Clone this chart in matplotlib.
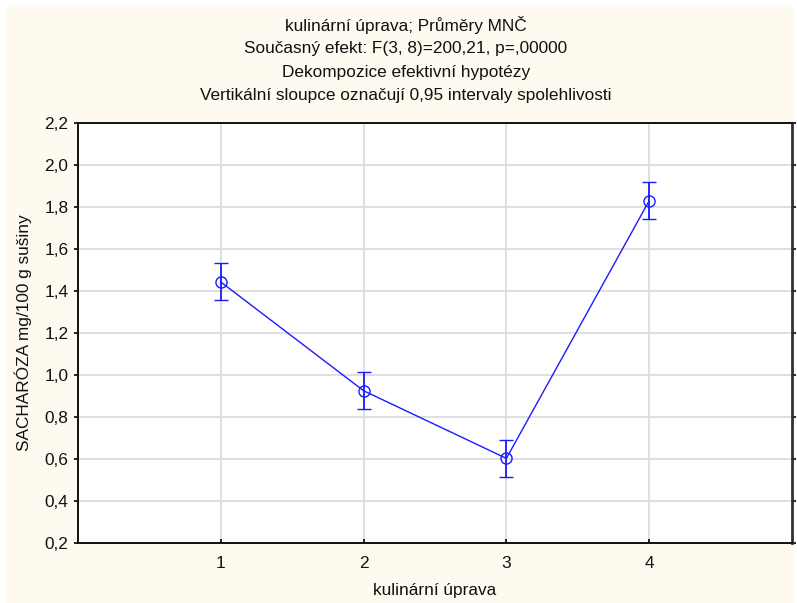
import matplotlib.pyplot as plt
from matplotlib.patches import Rectangle
from matplotlib.ticker import FuncFormatter

plt.rcParams['font.family'] = ['Liberation Sans', 'DejaVu Sans']

# Means of sucrose per cooking treatment with 0.95 confidence half-widths
uprava = [1, 2, 3, 4]
prumery = [1.443, 0.925, 0.603, 1.830]
ci_half = [0.088, 0.089, 0.088, 0.089]
yticks = [0.2, 0.4, 0.6, 0.8, 1.0, 1.2, 1.4, 1.6, 1.8, 2.0, 2.2]

title_lines = [
    'kulinární úprava; Průměry MNČ',
    'Současný efekt: F(3, 8)=200,21, p=,00000',
    'Dekompozice efektivní hypotézy',
    'Vertikální sloupce označují 0,95 intervaly spolehlivosti',
]

blue = '#1a1aff'
cream = '#fffaf0'
fs = 12.4

fig = plt.figure(figsize=(7.97, 6.03), dpi=100)
fig.patch.set_facecolor('white')
# cream panel behind the graph
fig.patches.append(Rectangle((6 / 797, 0), 788 / 797, 596 / 603,
                             transform=fig.transFigure, facecolor=cream,
                             edgecolor='none', zorder=-10))

ax = fig.add_axes([78 / 797, 60 / 603, 714 / 797, 420 / 603])
ax.set_facecolor('white')

ax.errorbar(uprava, prumery, yerr=ci_half, color=blue, lw=1.0,
            marker='o', markersize=8, markerfacecolor='none',
            markeredgecolor=blue, markeredgewidth=1.0,
            ecolor=blue, elinewidth=1.3, capsize=5, capthick=1.3, zorder=3)

ax.set_xlim(0, 5)
ax.set_ylim(0.2, 2.2)
ax.set_xticks(uprava)
ax.set_yticks(yticks)
ax.yaxis.set_major_formatter(FuncFormatter(lambda v, p: f'{v:.1f}'.replace('.', ',')))

ax.grid(True, color='#dcdcdc', lw=1.3, zorder=0)
ax.set_axisbelow(True)

for side in ['left', 'top', 'bottom']:
    ax.spines[side].set_color('#111111')
    ax.spines[side].set_linewidth(1.4)
ax.spines['right'].set_color('#333333')
ax.spines['right'].set_linewidth(2.0)

ax.tick_params(axis='y', direction='out', length=3, width=1.2, labelsize=fs,
               pad=4, right=True, labelcolor='#111111')
ax.tick_params(axis='x', direction='in', length=3, width=1.2, labelsize=fs,
               pad=9, labelcolor='#111111')

ax.set_xlabel('kulinární úprava', fontsize=fs, labelpad=9, color='#111111')
ax.set_ylabel('SACHARÓZA mg/100 g sušiny', fontsize=fs, labelpad=9,
              color='#111111')

for i, line in enumerate(title_lines):
    fig.text(406 / 797, 1 - (25 + 23.5 * i) / 603, line, ha='center', va='center',
             fontsize=fs, color='#111111')

plt.savefig('out.png', dpi=100, facecolor=fig.get_facecolor())
